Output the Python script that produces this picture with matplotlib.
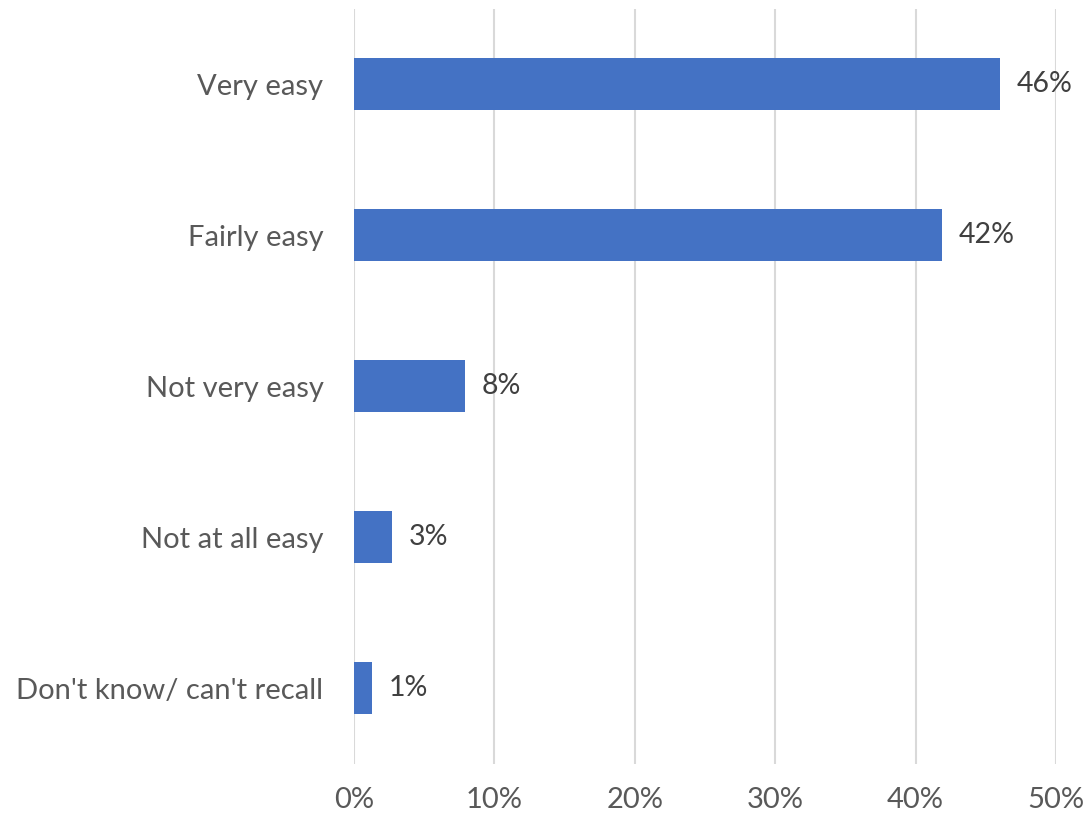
import matplotlib.pyplot as plt
import numpy as np

# answer categories, top to bottom
categories = ["Very easy", "Fairly easy", "Not very easy", "Not at all easy",
              "Don't know/ can't recall"]
values = [46.0, 41.9, 7.9, 2.7, 1.3]
labels = ["46%", "42%", "8%", "3%", "1%"]
xticks = [0, 10, 20, 30, 40, 50]

plt.rcParams['font.family'] = ['Lato', 'DejaVu Sans']

fig = plt.figure(figsize=(10.87, 8.18), dpi=100)
ax = fig.add_axes([0.3257, 0.0666, 0.9715 - 0.3257, 0.9896 - 0.0666])

y = np.arange(len(categories))
ax.barh(y, values, height=0.345, color='#4472C4', zorder=3)

for yi, v, lab in zip(y, values, labels):
    ax.annotate(lab, (v, yi), xytext=(12, 0), textcoords='offset points',
                va='center', ha='left', fontsize=20.5, color='#404040')

ax.set_xlim(0, 50)
ax.set_ylim(len(categories) - 0.5, -0.5)
ax.set_yticks(y)
ax.set_yticklabels(categories, fontsize=21, color='#595959')
ax.set_xticks(xticks)
ax.set_xticklabels([f"{t}%" for t in xticks], fontsize=21, color='#595959')

ax.grid(axis='x', color='#D9D9D9', linewidth=1.5, zorder=0)
for s in ax.spines.values():
    s.set_visible(False)
ax.tick_params(axis='both', length=0)
ax.tick_params(axis='y', pad=22)
ax.tick_params(axis='x', pad=17)

fig.savefig("out.png", dpi=100, facecolor='white')
